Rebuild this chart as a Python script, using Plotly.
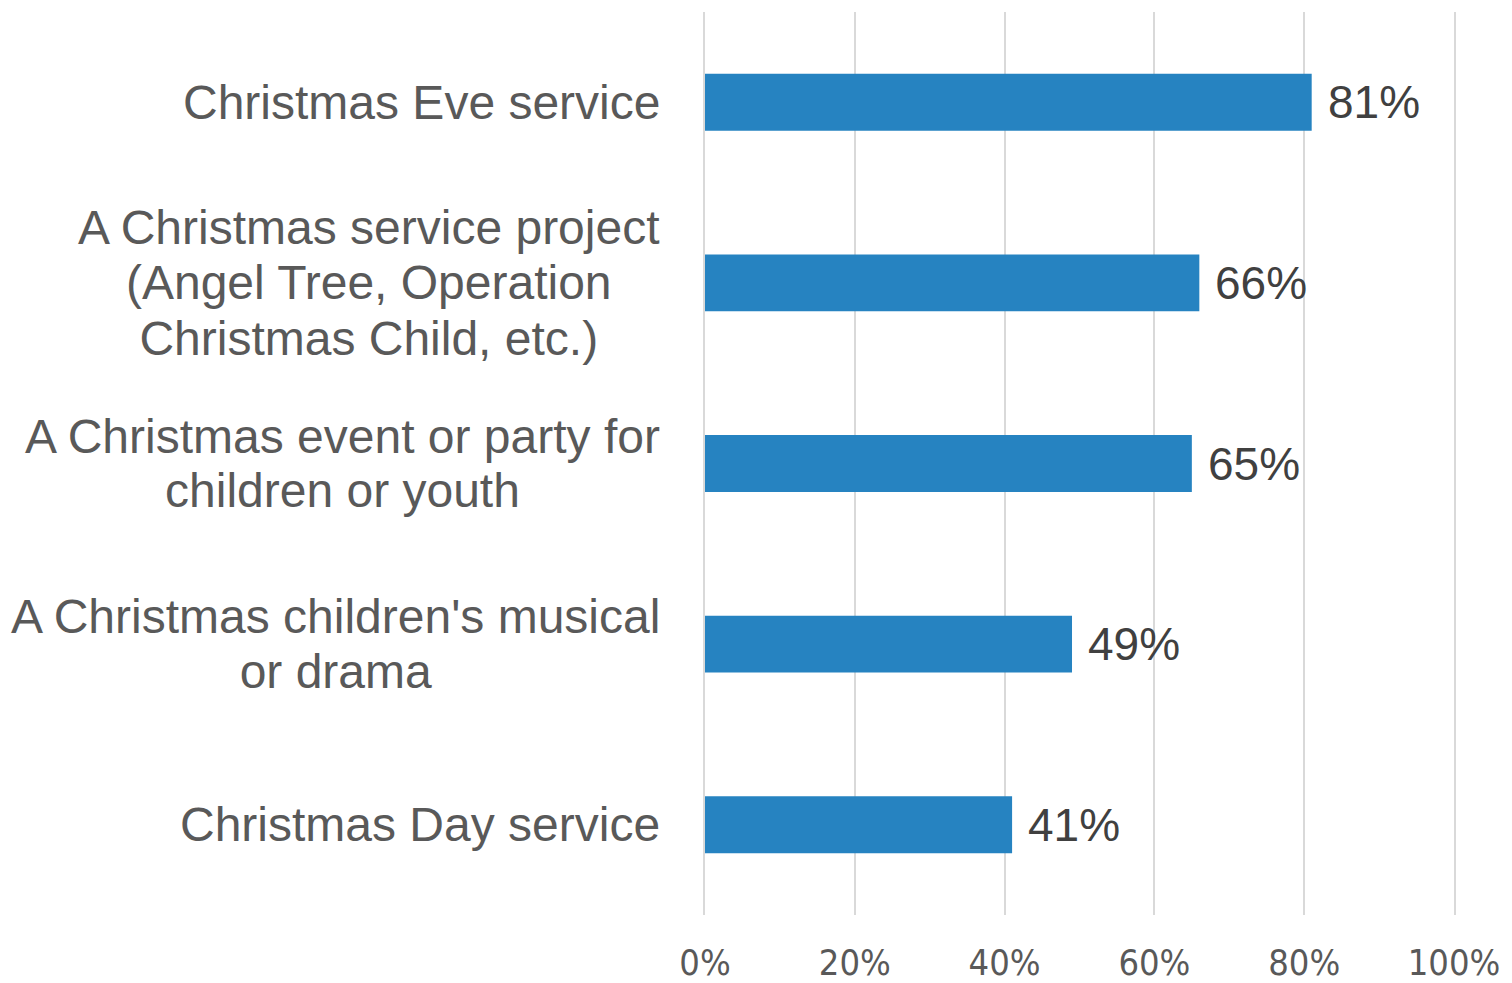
import plotly.graph_objects as go

categories = [
    "Christmas Eve service",
    "A Christmas service project<br>(Angel Tree, Operation<br>Christmas Child, etc.)",
    "A Christmas event or party for<br>children or youth",
    "A Christmas children's musical<br>or drama",
    "Christmas Day service",
]
values = [81, 66, 65, 49, 41]
tick_vals = [0, 20, 40, 60, 80, 100]
tick_text = ["0%", "20%", "40%", "60%", "80%", "100%"]

LABEL_FONT = 48
LINE_GAP = 55  # desired spacing between label lines, px

fig = go.Figure()
fig.add_trace(go.Bar(
    x=values, y=categories, orientation="h",
    marker=dict(color="#2683c1", line=dict(width=0)),
    hoverinfo="skip",
))

ann = []
for c, v in zip(categories, values):
    lines = c.split("<br>")
    n = len(lines)
    native = 1.3 * LABEL_FONT
    for i in range(n):
        parts = []
        for j, ln in enumerate(lines):
            if j == i:
                parts.append(ln)
            else:
                parts.append(f'<span style="color:rgba(0,0,0,0)">{ln}</span>')
        ann.append(dict(
            x=0, xref="paper", y=c, yref="y", xanchor="right", yanchor="middle",
            xshift=-43, yshift=(i - (n - 1) / 2) * (native - LINE_GAP),
            text="<br>".join(parts), showarrow=False, align="center",
            font=dict(family="Liberation Sans, Arial, sans-serif", size=LABEL_FONT, color="#595959"),
        ))
    ann.append(dict(
        x=v, xref="x", y=c, yref="y", xanchor="left", yanchor="middle",
        xshift=14, text=f"{v}%", showarrow=False,
        font=dict(family="Liberation Sans, Arial, sans-serif", size=46, color="#404040"),
    ))

fig.update_layout(
    width=1504, height=975,
    margin=dict(l=697, r=58, t=4, b=68),
    paper_bgcolor="white", plot_bgcolor="white",
    bargap=0.685, showlegend=False,
    annotations=ann,
    xaxis=dict(
        range=[0, 100], tickvals=tick_vals, ticktext=tick_text,
        showgrid=True, gridcolor="#d9d9d9", gridwidth=2,
        zeroline=False, showline=False, automargin=False,
        ticks="outside", ticklen=0, ticklabelstandoff=16,
        tickfont=dict(family="DejaVu Sans Condensed, Liberation Sans Narrow, sans-serif",
                      size=36, color="#595959"),
    ),
    yaxis=dict(
        autorange="reversed", showticklabels=False, showgrid=False,
        zeroline=False, showline=True, linecolor="#d9d9d9", linewidth=2,
        mirror=True, automargin=False,
    ),
)

fig.write_html("out.html")
